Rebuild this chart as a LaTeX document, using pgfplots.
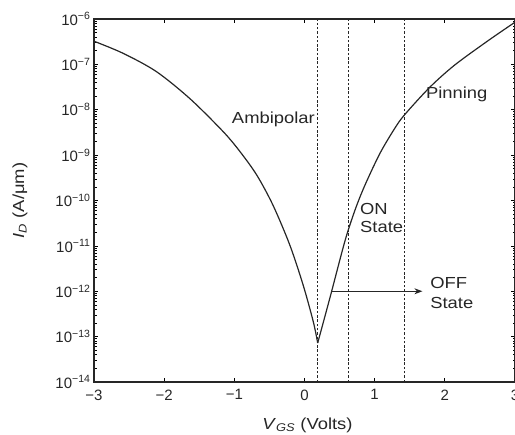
\documentclass[border=0pt]{standalone}
\usepackage{fontspec}
\setmainfont{Liberation Sans}
\newfontfamily\lblfont[FakeStretch=1.15]{Liberation Sans}
\usepackage{pgfplots}
\pgfplotsset{compat=1.18}
\usetikzlibrary{arrows.meta,calc}

\begin{document}
\begin{tikzpicture}
\begin{axis}[
    ymode=log,
    scale only axis,
    width=421pt, height=363pt,
    xmin=-3, xmax=3, ymin=1e-14, ymax=1e-6,
    xtick={-3,-2,-1,0,1,2,3},
    xticklabels={−3,−2,−1,0,1,2,3},
    ytick={1e-14,1e-13,1e-12,1e-11,1e-10,1e-9,1e-8,1e-7,1e-6},
    yticklabels={10\textsuperscript{−14},10\textsuperscript{−13},10\textsuperscript{−12},10\textsuperscript{−11},10\textsuperscript{−10},10\textsuperscript{−9},10\textsuperscript{−8},10\textsuperscript{−7},10\textsuperscript{−6}},
    tick align=inside,
    major tick length=4pt, minor tick length=2.5pt,
    tick style={black, line width=0.7pt},
    ticklabel style={font=\fontsize{15}{17}\selectfont, text=black!85},
    xticklabel style={yshift=-4pt},
    axis line style={black!85, line width=1.3pt},
    xlabel={\textit{V}\textsubscript{\textit{GS}} (Volts)},
    ylabel={\textit{I}\textsubscript{\textit{D}} (A/μm)},
    label style={font=\lblfont\fontsize{16}{18}\selectfont, text=black!85},
    x label style={at={(axis description cs:0.5,0)}, anchor=center, yshift=-43pt, xshift=3pt},
    y label style={at={(axis description cs:0,0.5)}, anchor=center, yshift=74pt},
    clip=false,
]
% left (ambipolar) branch
\addplot[black!85, line width=1.2pt, smooth] coordinates {
    (-3.00,3.24e-7) (-2.58,1.74e-7) (-2.11,6.92e-8) (-1.63,1.74e-8)
    (-1.16,3.31e-9) (-0.92,1.20e-9) (-0.68,3.63e-10) (-0.45,7.94e-11)
    (-0.21,1.05e-11) (-0.02,1.38e-12) (0.125,2.14e-13) (0.188,7.24e-14)
};
% right branch
\addplot[black!85, line width=1.2pt, smooth] coordinates {
    (0.188,7.24e-14) (0.363,7.24e-13) (0.577,1.29e-11) (0.720,6.17e-11)
    (0.862,2.19e-10) (1.076,1.10e-9) (1.290,3.98e-9) (1.432,7.94e-9)
    (1.788,3.16e-8) (2.144,9.77e-8) (2.614,3.31e-7) (3.00,8.51e-7)
};
% region boundaries
\addplot[black!85, line width=0.8pt, dash pattern=on 2.5pt off 1.8pt] coordinates {(0.19,1e-14) (0.19,1e-6)};
\addplot[black!85, line width=0.8pt, dash pattern=on 2.5pt off 1.8pt] coordinates {(0.63,1e-14) (0.63,1e-6)};
\addplot[black!85, line width=0.8pt, dash pattern=on 2.5pt off 1.8pt] coordinates {(1.42,1e-14) (1.42,1e-6)};
% arrow to OFF state
\addplot[black!85, line width=1pt, -{Stealth[length=8pt,width=6pt]}] coordinates {(0.385,1e-12) (1.68,1e-12)};

\node[anchor=east, inner sep=0pt, font=\lblfont\fontsize{16}{18}\selectfont, text=black!85] at (axis cs:0.15,6.0e-9) {Ambipolar};
\node[anchor=west, inner sep=0pt, font=\lblfont\fontsize{16}{18}\selectfont, text=black!85] at (axis cs:1.73,2.19e-8) {Pinning};
\node[anchor=north west, align=left, inner sep=0pt, font=\lblfont\fontsize{16}{18}\selectfont, text=black!85] at (axis cs:0.79,8.9e-11) {ON\\State};
\node[anchor=north west, align=left, inner sep=0pt, font=\lblfont\fontsize{16}{20}\selectfont, text=black!85] at (axis cs:1.79,2.09e-12) {OFF\\State};
\end{axis}
\pgfresetboundingbox
\path[use as bounding box] ($(current axis.south west)+(-94pt,-52pt)$) rectangle ($(current axis.north east)+(0pt,19pt)$);
\end{tikzpicture}
\end{document}
